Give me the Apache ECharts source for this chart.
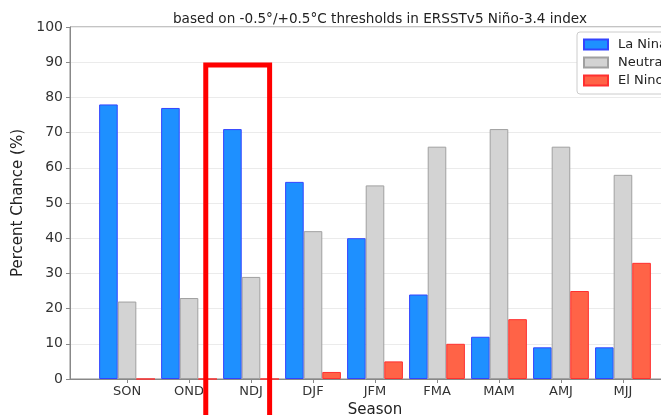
<!DOCTYPE html>
<html><head><meta charset="utf-8">
<script src="https://cdn.jsdelivr.net/npm/echarts@6/dist/echarts.min.js"></script>
<style>html,body{margin:0;padding:0;background:#fff}#c{width:661px;height:415px}</style>
</head><body><div id="c"></div>
<script>
const seasons = ['SON','OND','NDJ','DJF','JFM','FMA','MAM','AMJ','MJJ'];
const laNina  = [78, 77, 71, 56, 40, 24, 12, 9, 9];
const neutral = [22, 23, 29, 42, 55, 66, 71, 66, 58];
const elNino  = [0, 0, 0, 2, 5, 10, 17, 25, 33];
const yTicks = [0,10,20,30,40,50,60,70,80,90,100];

const pos = seasons.map((s,i)=>i);
const pair = arr => arr.map((v,i)=>[pos[i], v]);
const font = 'DejaVu Sans';
const chart = echarts.init(document.getElementById('c'), null, {renderer:'canvas'});
function mk(name, data, color, edge){
  return {name, type:'bar', data:pair(data), barGap:'0%', barCategoryGap:'10%',
    itemStyle:{color, borderColor:edge, borderWidth:1}, emphasis:{disabled:true}, animation:false};
}
chart.setOption({
  animation:false,
  textStyle:{fontFamily:font},
  title:{text:'based on -0.5°/+0.5°C thresholds in ERSSTv5 Niño-3.4 index', left:375, top:7, textAlign:'center',
    textStyle:{fontFamily:font, fontSize:13.6, fontWeight:'normal', color:'#222'}},
  grid:{left:70, top:27, width:610, height:352, show:true, borderColor:'#888', borderWidth:1,
    backgroundColor:'transparent', outerBoundsMode:'none', containLabel:false},
  legend:{left:577, top:32, orient:'vertical', icon:'rect', itemWidth:24, itemHeight:10, itemGap:5,
    padding:[6,30,7,6], borderColor:'#ccc', borderWidth:1, borderRadius:3, backgroundColor:'#fff',
    textStyle:{fontFamily:font, fontSize:13, color:'#222', padding:[0,0,0,5]},
    data:['La Nina','Neutral','El Nino']},
  xAxis:{type:'value', min:-0.92, max:8.92, name:'Season', nameLocation:'middle', nameGap:22,
    nameTextStyle:{fontFamily:font, fontSize:15, color:'#222'},
    axisLine:{show:true, onZero:false, lineStyle:{color:'#888'}},
    axisTick:{show:true, customValues:pos, length:4, lineStyle:{color:'#888'}},
    axisLabel:{customValues:pos, formatter:v=>seasons[Math.round(v)], fontSize:13, color:'#333', margin:6},
    splitLine:{show:false}},
  yAxis:{type:'value', min:0, max:100, interval:10, name:'Percent Chance (%)', nameLocation:'middle', nameGap:43,
    nameTextStyle:{fontFamily:font, fontSize:15, color:'#222'},
    axisLine:{show:true, onZero:false, lineStyle:{color:'#888'}},
    axisTick:{show:true, length:4, lineStyle:{color:'#888'}},
    axisLabel:{fontSize:14, color:'#333', margin:7},
    splitLine:{show:true, lineStyle:{color:'#ebebeb'}}},
  series:[
    mk('La Nina', laNina, '#1E90FF', '#3344ff'),
    mk('Neutral', neutral, '#D3D3D3', '#a0a0a0'),
    mk('El Nino', elNino, '#FF6347', '#ff3030')
  ]
});
// red annotation box around NDJ
const tl = chart.convertToPixel({gridIndex:0}, [2-0.73, 89.2]);
const br = chart.convertToPixel({gridIndex:0}, [2+0.30, -20]);
chart.setOption({graphic:[{type:'rect', shape:{x:tl[0], y:tl[1], width:br[0]-tl[0], height:br[1]-tl[1]},
  style:{fill:'none', stroke:'#ff0000', lineWidth:5}, z:100}]});
</script></body></html>
